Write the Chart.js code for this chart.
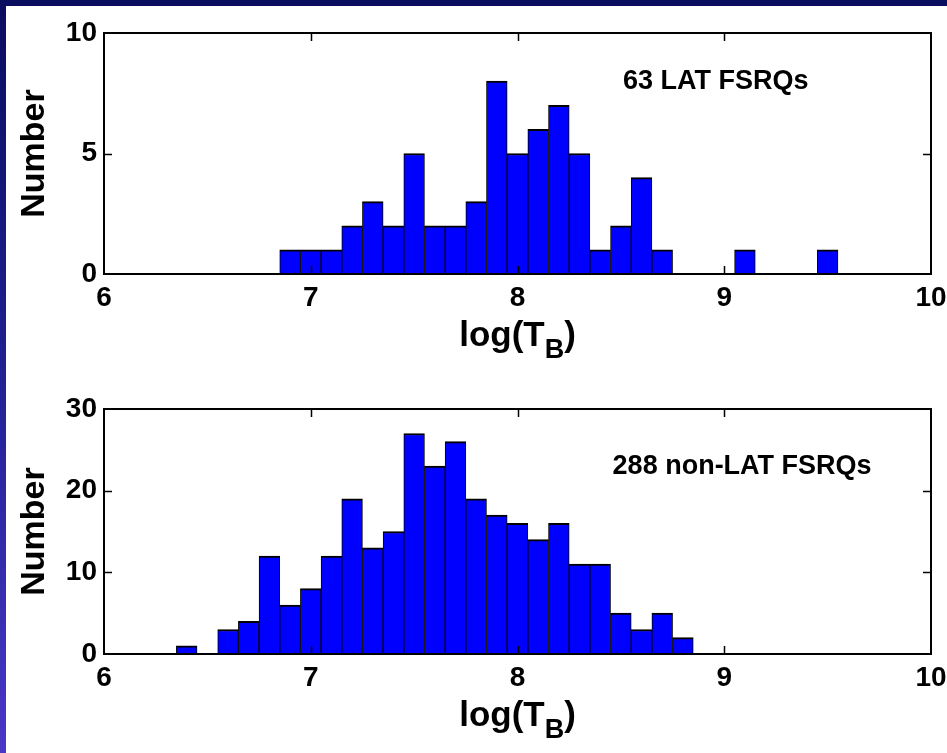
<!DOCTYPE html>
<html>
<head>
<meta charset="utf-8">
<script src="https://cdn.jsdelivr.net/npm/chart.js@4.4.1/dist/chart.umd.min.js"></script>
<style>
  html, body { margin: 0; padding: 0; }
  body {
    width: 947px; height: 753px; overflow: hidden; position: relative;
    background: linear-gradient(to bottom, #0a0d5e 0%, #1c1f8e 45%, #4a37c6 100%);
  }
  .sheet { position: absolute; left: 6px; top: 6px; right: 0; bottom: 0; background: #fff; }
  canvas { position: absolute; left: 0; }
  #lat { top: 0; }
  #nonlat { top: 380px; }
</style>
</head>
<body>
<div class="sheet"></div>
<canvas id="lat" width="947" height="380"></canvas>
<canvas id="nonlat" width="947" height="373"></canvas>
<script>
// bin centres (log T_B) and counts per 0.1 dex bin
const latBins = [6.9, 7.0, 7.1, 7.2, 7.3, 7.4, 7.5, 7.6, 7.7, 7.8, 7.9, 8.0, 8.1, 8.2,
                 8.3, 8.4, 8.5, 8.6, 8.7, 8.8, 8.9, 9.0, 9.1, 9.2, 9.3, 9.4, 9.5];
const latCounts = [1, 1, 1, 2, 3, 2, 5, 2, 2, 3, 8, 5, 6, 7,
                   5, 1, 2, 4, 1, 0, 0, 0, 1, 0, 0, 0, 1];

const nonLatBins = [6.4, 6.5, 6.6, 6.7, 6.8, 6.9, 7.0, 7.1, 7.2, 7.3, 7.4, 7.5, 7.6,
                    7.7, 7.8, 7.9, 8.0, 8.1, 8.2, 8.3, 8.4, 8.5, 8.6, 8.7, 8.8];
const nonLatCounts = [1, 0, 3, 4, 12, 6, 8, 12, 19, 13, 15, 27, 23,
                      26, 19, 17, 16, 14, 16, 11, 11, 5, 3, 5, 2];

const xTicks = [6, 7, 8, 9, 10];
const latYTicks = [0, 5, 10];
const nonLatYTicks = [0, 10, 20, 30];

const FONT = '"Liberation Sans", Arial, Helvetica, sans-serif';

// box, inward tick marks, axis titles and the sample label
const framePlugin = {
  id: 'frame',
  afterDraw(chart, args, opts) {
    const { ctx, chartArea: a, scales: { x, y } } = chart;
    ctx.save();
    ctx.strokeStyle = '#000';
    ctx.lineWidth = 2;
    ctx.strokeRect(a.left, a.top, a.right - a.left, a.bottom - a.top);

    ctx.lineWidth = 1.5;
    ctx.beginPath();
    xTicks.slice(1, -1).forEach(v => {
      const px = Math.round(x.getPixelForValue(v)) + 0.5;
      ctx.moveTo(px, a.bottom); ctx.lineTo(px, a.bottom - 8);
      ctx.moveTo(px, a.top); ctx.lineTo(px, a.top + 8);
    });
    opts.yTicks.slice(1, -1).forEach(v => {
      const py = Math.round(y.getPixelForValue(v)) + 0.5;
      ctx.moveTo(a.left, py); ctx.lineTo(a.left + 8, py);
      ctx.moveTo(a.right, py); ctx.lineTo(a.right - 8, py);
    });
    ctx.stroke();

    ctx.fillStyle = '#000';

    // y title
    ctx.save();
    ctx.translate(44, (a.top + a.bottom) / 2);
    ctx.rotate(-Math.PI / 2);
    ctx.font = 'bold 34px ' + FONT;
    ctx.textAlign = 'center';
    ctx.textBaseline = 'alphabetic';
    ctx.fillText('Number', 0, 0);
    ctx.restore();

    // x title with subscript
    const base = a.bottom + 72;
    ctx.textBaseline = 'alphabetic';
    ctx.textAlign = 'left';
    const big = 'bold 35px ' + FONT, small = 'bold 27px ' + FONT;
    ctx.font = big;
    const w1 = ctx.measureText('log(T').width;
    const w3 = ctx.measureText(')').width;
    ctx.font = small;
    const w2 = ctx.measureText('B').width;
    let tx = (a.left + a.right) / 2 - (w1 + w2 + w3) / 2;
    ctx.font = big;
    ctx.fillText('log(T', tx, base);
    tx += w1;
    ctx.font = small;
    ctx.fillText('B', tx, base + 12);
    tx += w2;
    ctx.font = big;
    ctx.fillText(')', tx, base);

    // sample label, placed in data coordinates
    ctx.font = 'bold 27px ' + FONT;
    ctx.textBaseline = 'middle';
    ctx.fillText(opts.note, x.getPixelForValue(opts.noteX), y.getPixelForValue(opts.noteY));
    ctx.restore();
  }
};

function histogram(id, bins, counts, yTicks, note, noteX, noteY, padTop, axisHeight) {
  const points = bins.map((b, i) => ({ x: b, y: counts[i] }));
  return new Chart(document.getElementById(id), {
    type: 'bar',
    data: {
      datasets: [{
        data: points,
        backgroundColor: '#0000ff',
        borderColor: '#000',
        borderWidth: { top: 2, left: 1, right: 1, bottom: 0 },
        borderSkipped: false,
        barPercentage: 1,
        categoryPercentage: 1
      }]
    },
    options: {
      responsive: false,
      animation: false,
      events: [],
      layout: { padding: { top: padTop, right: 16, left: 0, bottom: 0 } },
      scales: {
        x: {
          type: 'linear',
          min: 6,
          max: 10,
          offset: false,
          afterBuildTicks: s => { s.ticks = xTicks.map(v => ({ value: v })); },
          afterFit: s => { s.height = axisHeight; s.paddingLeft = 0; s.paddingRight = 0; },
          grid: { display: false, drawTicks: false },
          border: { display: false },
          ticks: { color: '#000', padding: 7, maxRotation: 0, font: { family: FONT, size: 28, weight: 'bold' } }
        },
        y: {
          min: 0,
          max: yTicks[yTicks.length - 1],
          afterBuildTicks: s => { s.ticks = yTicks.map(v => ({ value: v })); },
          afterFit: s => { s.width = 104; s.paddingTop = 0; s.paddingBottom = 0; },
          grid: { display: false, drawTicks: false },
          border: { display: false },
          ticks: { color: '#000', padding: 7, font: { family: FONT, size: 28, weight: 'bold' } }
        }
      },
      plugins: {
        legend: { display: false },
        tooltip: { enabled: false },
        frame: { yTicks: yTicks, note: note, noteX: noteX, noteY: noteY }
      }
    },
    plugins: [framePlugin]
  });
}

histogram('lat', latBins, latCounts, latYTicks, '63 LAT FSRQs', 8.51, 7.97, 33, 106);
histogram('nonlat', nonLatBins, nonLatCounts, nonLatYTicks, '288 non-LAT FSRQs', 8.46, 22.9, 29, 99);
</script>
</body>
</html>
